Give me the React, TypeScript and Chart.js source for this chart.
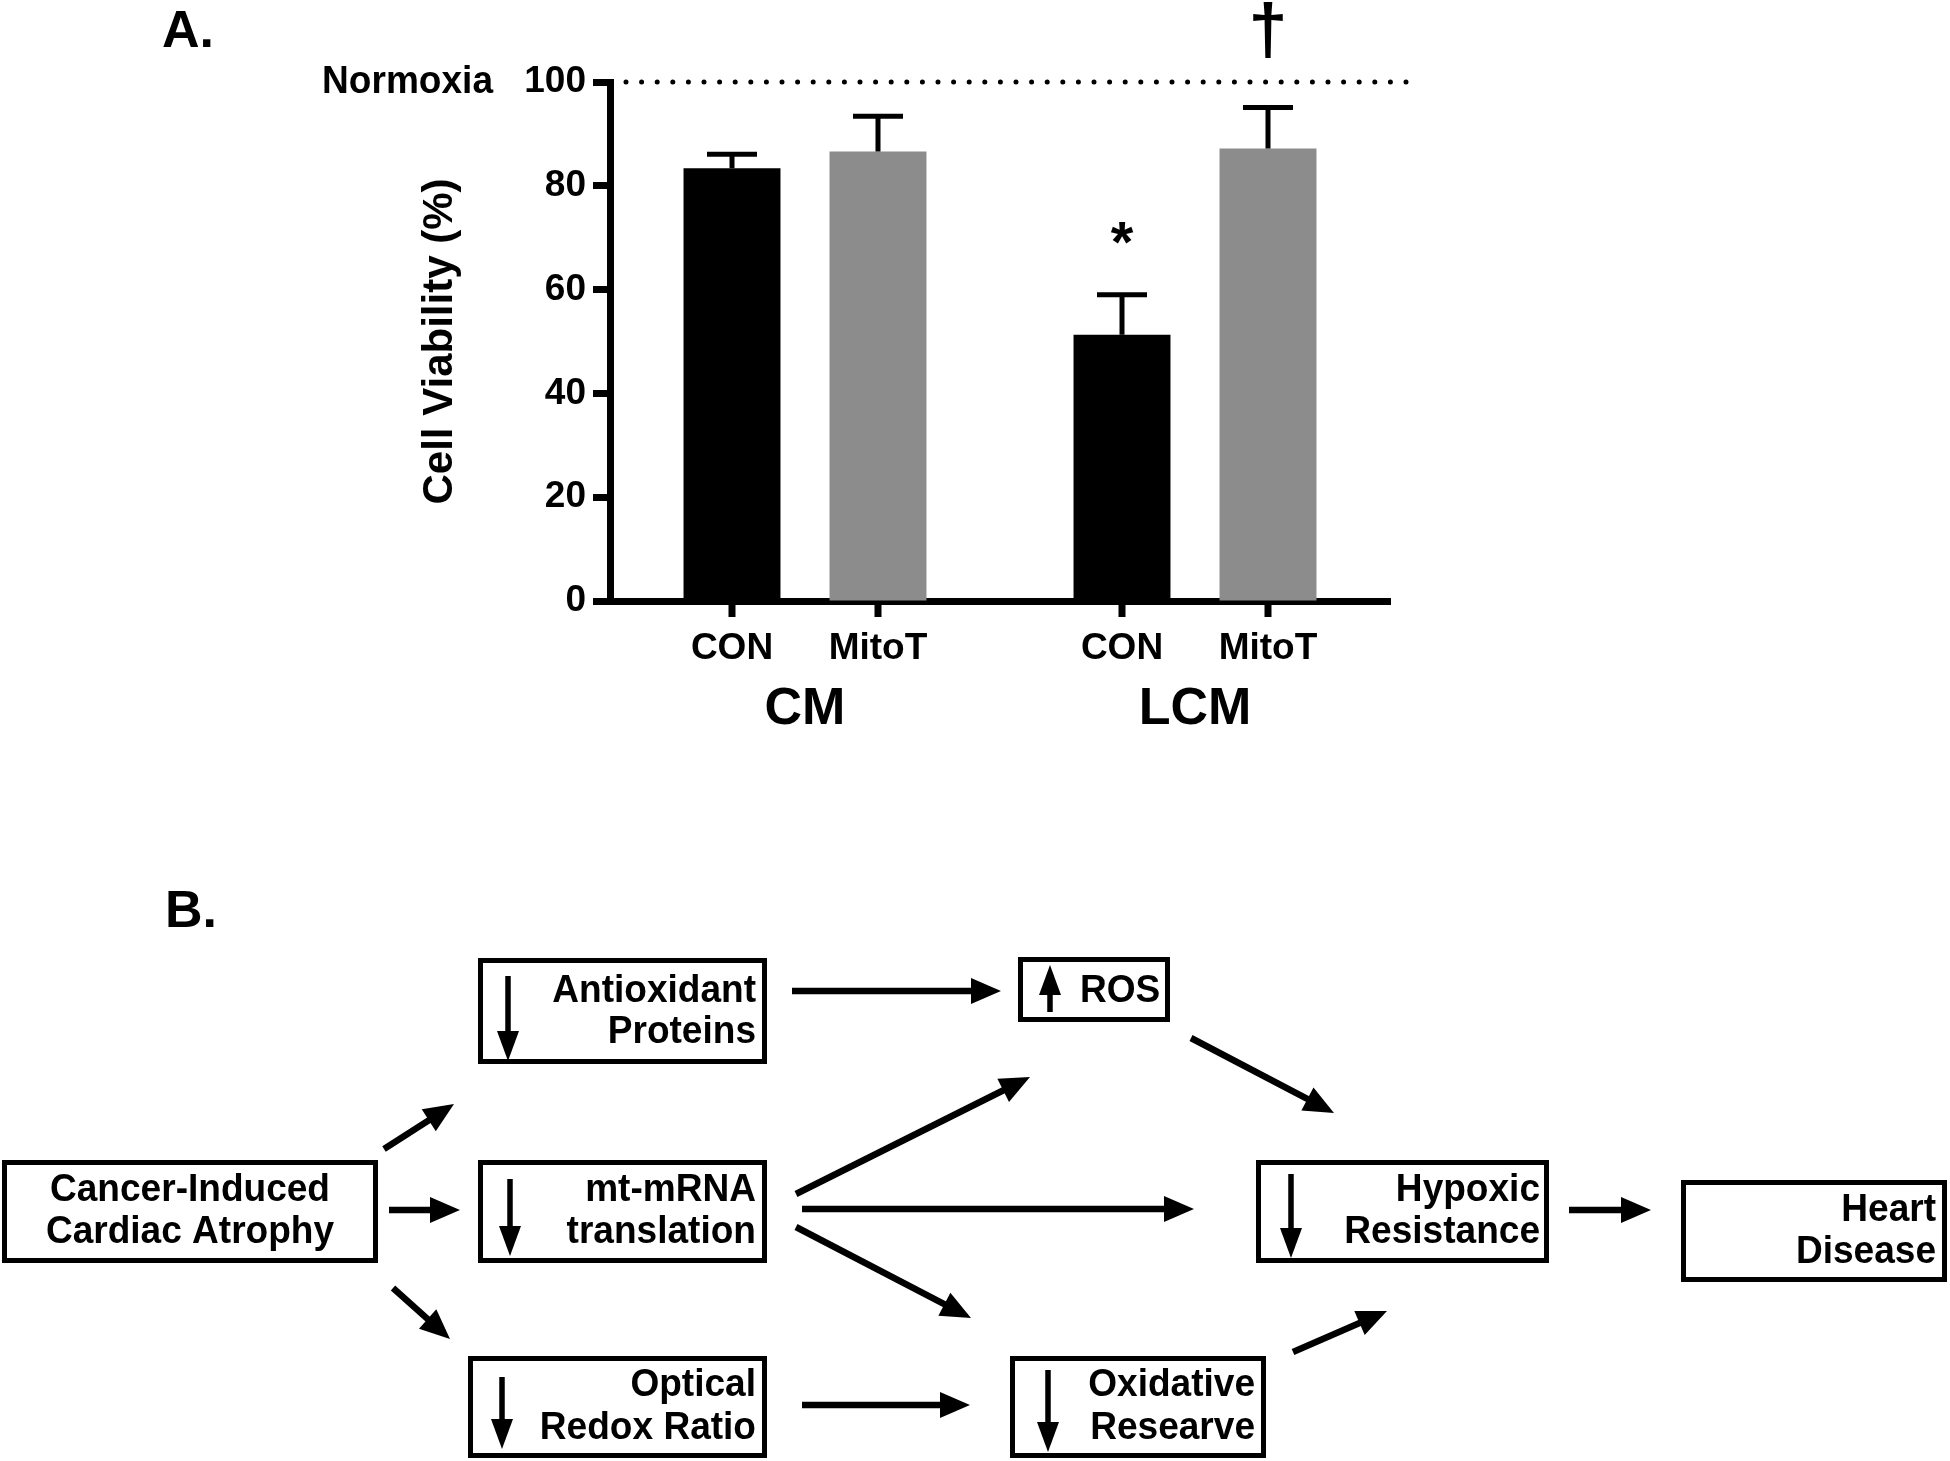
import React, { useEffect, useRef } from 'react';
import { Chart, registerables } from 'chart.js';

Chart.register(...registerables);

// ---------------- Panel A data ----------------
const groupLabels = ['CM', 'LCM'];
const treatmentLabels = ['CON', 'MitoT'];
const conViability = [83.4, 51.3];
const conSem = [2.7, 7.7];
const mitoViability = [86.6, 87.2];
const mitoSem = [6.8, 7.9];
const conMarks = ['', '*'];
const mitoMarks = ['', '†'];
const yTickValues = [0, 20, 40, 60, 80, 100];
const normoxiaValue = 100;
const yAxisTitle = 'Cell Viability (%)';
const referenceLabel = 'Normoxia';
const panelLabels = ['A.', 'B.'];

// ---------------- Panel B labels ----------------
const nodeIds = ['cancer', 'antioxidant', 'mtmrna', 'optical', 'ros', 'oxidative', 'hypoxic', 'heart'];
const nodeText: Record<string, string[]> = {
  cancer: ['Cancer-Induced', 'Cardiac Atrophy'],
  antioxidant: ['Antioxidant', 'Proteins'],
  mtmrna: ['mt-mRNA', 'translation'],
  optical: ['Optical', 'Redox Ratio'],
  ros: ['ROS'],
  oxidative: ['Oxidative', 'Researve'],
  hypoxic: ['Hypoxic', 'Resistance'],
  heart: ['Heart', 'Disease'],
};
const nodeDirection: Record<string, string> = {
  cancer: '', antioxidant: 'down', mtmrna: 'down', optical: 'down',
  ros: 'up', oxidative: 'down', hypoxic: 'down', heart: '',
};

// ---------------- Layout (pixels) ----------------
const FONT = '"Liberation Sans", Arial, Helvetica, sans-serif';
const nodeLayout: Record<string, any> = {
  cancer: { box: [2, 1160, 376, 103], tx: 190, align: 'center', ty: [1190, 1232], ind: null },
  antioxidant: { box: [478, 958, 289, 106], tx: 756, align: 'right', ty: [991, 1032], ind: [508, 976, 1061] },
  mtmrna: { box: [478, 1160, 289, 103], tx: 756, align: 'right', ty: [1190, 1232], ind: [510, 1179, 1256] },
  optical: { box: [468, 1356, 299, 102], tx: 756, align: 'right', ty: [1385, 1428], ind: [502, 1377, 1449] },
  ros: { box: [1018, 957, 152, 65], tx: 1080, align: 'left', ty: [991], ind: [1050, 1012, 965] },
  oxidative: { box: [1010, 1356, 256, 102], tx: 1255, align: 'right', ty: [1385, 1428], ind: [1048, 1370, 1452] },
  hypoxic: { box: [1256, 1160, 293, 103], tx: 1540, align: 'right', ty: [1190, 1232], ind: [1291, 1174, 1258] },
  heart: { box: [1681, 1180, 266, 102], tx: 1936, align: 'right', ty: [1210, 1252], ind: null },
};
const arrowLayout: number[][] = [
  [792, 991, 1001, 991],
  [1191, 1038, 1334, 1113],
  [384, 1149, 454, 1104],
  [389, 1210, 460, 1210],
  [393, 1288, 450, 1339],
  [796, 1194, 1030, 1077],
  [802, 1209, 1194, 1209],
  [796, 1227, 971, 1318],
  [802, 1405, 970, 1405],
  [1293, 1352, 1387, 1311],
  [1569, 1210, 1651, 1210],
];

function drawText(ctx: CanvasRenderingContext2D, text: string, x: number, y: number, size: number,
  align: CanvasTextAlign, scaleX = 1, baseline: CanvasTextBaseline = 'middle') {
  ctx.save();
  ctx.translate(x, y);
  ctx.scale(scaleX, 1);
  ctx.font = `bold ${size}px ${FONT}`;
  ctx.textAlign = align;
  ctx.textBaseline = baseline;
  ctx.fillStyle = '#000';
  ctx.fillText(text, 0, 0);
  ctx.restore();
}

function drawArrow(ctx: CanvasRenderingContext2D, x1: number, y1: number, x2: number, y2: number,
  lw: number, hl: number, hw: number) {
  const dx = x2 - x1, dy = y2 - y1;
  const len = Math.hypot(dx, dy);
  const ux = dx / len, uy = dy / len;
  const bx = x2 - ux * hl, by = y2 - uy * hl;
  ctx.save();
  ctx.strokeStyle = '#000';
  ctx.fillStyle = '#000';
  ctx.lineWidth = lw;
  ctx.lineCap = 'butt';
  ctx.beginPath();
  ctx.moveTo(x1, y1);
  ctx.lineTo(bx + ux * 2, by + uy * 2);
  ctx.stroke();
  ctx.beginPath();
  ctx.moveTo(x2, y2);
  ctx.lineTo(bx - uy * hw / 2, by + ux * hw / 2);
  ctx.lineTo(bx + uy * hw / 2, by - ux * hw / 2);
  ctx.closePath();
  ctx.fill();
  ctx.restore();
}

const markBaselineGap: Record<string, number> = { '*': 33, '†': 54 };
const markSize: Record<string, number> = { '*': 58, '†': 70 };

const figurePlugin = {
  id: 'figurePlugin',
  afterDatasetsDraw(chart: any) {
    const ctx: CanvasRenderingContext2D = chart.ctx;
    const ys = chart.scales.y;
    const area = chart.chartArea;
    chart.data.datasets.forEach((ds: any, di: number) => {
      const meta = chart.getDatasetMeta(di);
      meta.data.forEach((bar: any, i: number) => {
        const v = ds.data[i];
        const e = ds.errors[i];
        const base = ys.getPixelForValue(v);
        const top = ys.getPixelForValue(v + e);
        ctx.save();
        ctx.strokeStyle = '#000';
        ctx.lineWidth = 5;
        ctx.beginPath();
        ctx.moveTo(bar.x, base);
        ctx.lineTo(bar.x, top);
        ctx.moveTo(bar.x - 25, top);
        ctx.lineTo(bar.x + 25, top);
        ctx.stroke();
        // tick under bar
        ctx.lineWidth = 7;
        ctx.beginPath();
        ctx.moveTo(bar.x, area.bottom);
        ctx.lineTo(bar.x, area.bottom + 16);
        ctx.stroke();
        ctx.restore();
        const m = ds.marks[i];
        if (m) {
          drawText(ctx, m, bar.x, top - markBaselineGap[m], markSize[m], 'center', 1, 'alphabetic');
        }
        drawText(ctx, treatmentLabels[di], bar.x, area.bottom + 58, 37, 'center', 1, 'alphabetic');
      });
    });
  },
  afterDraw(chart: any) {
    const ctx: CanvasRenderingContext2D = chart.ctx;
    const ys = chart.scales.y;
    const area = chart.chartArea;
    const ny = ys.getPixelForValue(normoxiaValue);
    // dotted normoxia line
    ctx.save();
    ctx.strokeStyle = '#000';
    ctx.lineWidth = 5;
    ctx.lineCap = 'round';
    ctx.setLineDash([0, 15.6]);
    ctx.beginPath();
    ctx.moveTo(area.left + 16, ny);
    ctx.lineTo(area.right + 22, ny);
    ctx.stroke();
    ctx.restore();
    drawText(ctx, referenceLabel, area.left - 117, ny, 39, 'right', 0.95);
    // y axis title
    ctx.save();
    ctx.translate(area.left - 170, (area.top + area.bottom) / 2);
    ctx.rotate(-Math.PI / 2);
    drawText(ctx, yAxisTitle, 0, 0, 42, 'center');
    ctx.restore();
    // panel labels
    drawText(ctx, panelLabels[0], 162, 47, 52, 'left', 1, 'alphabetic');
    drawText(ctx, panelLabels[1], 165, 927, 52, 'left', 1, 'alphabetic');

    // ---- Panel B diagram ----
    nodeIds.forEach((id) => {
      const L = nodeLayout[id];
      const [x, y, w, h] = L.box;
      ctx.save();
      ctx.strokeStyle = '#000';
      ctx.lineWidth = 5;
      ctx.strokeRect(x + 2.5, y + 2.5, w - 5, h - 5);
      ctx.restore();
      nodeText[id].forEach((line, li) => {
        drawText(ctx, line, L.tx, L.ty[li], 39, L.align, 0.95);
      });
      if (L.ind && nodeDirection[id]) {
        const [ix, a, b] = L.ind;
        drawArrow(ctx, ix, a, ix, b, 5.5, 30, 22);
      }
    });
    arrowLayout.forEach(([x1, y1, x2, y2]) => drawArrow(ctx, x1, y1, x2, y2, 6.5, 30, 26));
  },
};

export default function App() {
  const ref = useRef<HTMLCanvasElement>(null);
  useEffect(() => {
    document.body.style.margin = '0';
    const canvas = ref.current!;
    Chart.defaults.font.family = FONT;
    const chart = new Chart(canvas, {
      type: 'bar',
      data: {
        labels: groupLabels,
        datasets: [
          { label: treatmentLabels[0], data: conViability, backgroundColor: '#000000', borderWidth: 0,
            errors: conSem, marks: conMarks, categoryPercentage: 0.7487, barPercentage: 0.664 } as any,
          { label: treatmentLabels[1], data: mitoViability, backgroundColor: '#8c8c8c', borderWidth: 0,
            errors: mitoSem, marks: mitoMarks, categoryPercentage: 0.7487, barPercentage: 0.664 } as any,
        ],
      },
      options: {
        responsive: false,
        maintainAspectRatio: false,
        animation: false,
        devicePixelRatio: 1,
        layout: { padding: { left: 0, top: 82, right: 560, bottom: 0 } },
        plugins: { legend: { display: false }, tooltip: { enabled: false } },
        scales: {
          x: {
            type: 'category',
            offset: true,
            grid: { display: true, drawOnChartArea: false, drawTicks: false },
            border: { display: true, color: '#000', width: 7 },
            ticks: { color: '#000', font: { size: 52, weight: 'bold', family: FONT }, padding: 77, maxRotation: 0, autoSkip: false },
            afterFit: (s: any) => { s.height = 860; },
          },
          y: {
            min: 0,
            max: 100,
            afterBuildTicks: (s: any) => { s.ticks = yTickValues.map((v) => ({ value: v })); },
            grid: { display: true, drawOnChartArea: false, drawTicks: true, tickLength: 17, tickWidth: 7, tickColor: '#000' },
            border: { display: true, color: '#000', width: 7 },
            ticks: { color: '#000', font: { size: 37, weight: 'bold', family: FONT }, padding: 7 },
            afterFit: (s: any) => { s.width = 610; },
          },
        },
      } as any,
      plugins: [figurePlugin],
    });
    return () => chart.destroy();
  }, []);
  return (
    <canvas
      ref={ref}
      width={1950}
      height={1461}
      style={{ display: 'block', width: '1950px', height: '1461px' }}
    />
  );
}
